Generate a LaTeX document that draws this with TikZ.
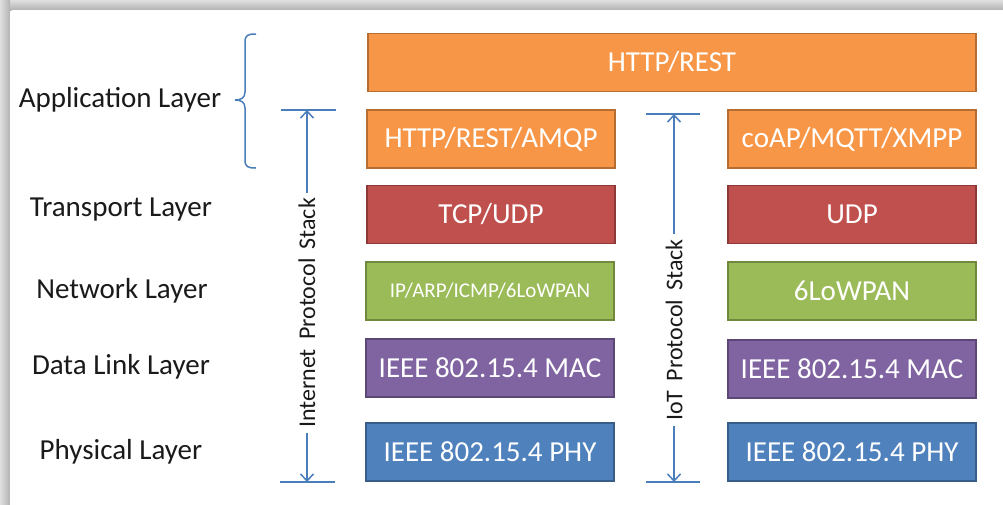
\documentclass[tikz,border=0pt]{standalone}
\usepackage{fontspec}
\setmainfont{Carlito}
\usetikzlibrary{arrows.meta}

\definecolor{orangefill}{HTML}{F79646}
\definecolor{orangeline}{HTML}{B66D31}
\definecolor{redfill}{HTML}{C0504D}
\definecolor{redline}{HTML}{8C3836}
\definecolor{greenfill}{HTML}{9BBB59}
\definecolor{greenline}{HTML}{71893F}
\definecolor{purplefill}{HTML}{8064A2}
\definecolor{purpleline}{HTML}{5C4776}
\definecolor{bluefill}{HTML}{4F81BD}
\definecolor{blueline}{HTML}{385D8A}
\definecolor{stackblue}{HTML}{4A7EBB}
\definecolor{labeltext}{HTML}{1A1A1A}

\tikzset{
  layerbox/.style={draw, line width=1.8pt, minimum height=58pt, inner sep=0pt,
    text=white, font=\fontsize{29}{34}\selectfont},
  narrowbox/.style={layerbox, minimum width=248pt},
  widebox/.style={layerbox, minimum width=608pt},
  appbox/.style={fill=orangefill, draw=orangeline},
  transbox/.style={fill=redfill, draw=redline},
  netbox/.style={fill=greenfill, draw=greenline},
  linkbox/.style={fill=purplefill, draw=purpleline},
  phybox/.style={fill=bluefill, draw=blueline},
  layername/.style={text=labeltext, font=\fontsize{29}{34}\selectfont, inner sep=0pt},
  stacklabel/.style={rotate=90, text=labeltext, font=\fontsize{24}{28}\selectfont, inner sep=5pt},
  stackline/.style={draw=stackblue, line width=1.5pt},
  stackarrow/.style={stackline, -{Straight Barb[length=7pt,width=13pt,line width=1.5pt]}},
}

\begin{document}
\begin{tikzpicture}[x=1pt, y=-1pt]
\useasboundingbox (0,0) rectangle (1003,504);

% frame shadow along the top and left edges, white card on top
\fill[white] (0,0) rectangle (1003,504);
\shade[top color=gray!25, bottom color=gray!60] (0,0) rectangle (1003,10);
\shade[left color=gray!25, right color=gray!60] (0,0) rectangle (10,504);
\fill[white, rounded corners=3pt] (10,10) rectangle (1010,510);

% layer names
\node[layername] (appname)  at (120,100) {Application Layer};
\node[layername] (transname) at (121,210) {Transport Layer};
\node[layername] (netname)  at (122,291) {Network Layer};
\node[layername] (linkname) at (121,367) {Data Link Layer};
\node[layername] (phyname)  at (121,452) {Physical Layer};

% brace grouping the application rows
\draw[stackline] (256,34) .. controls (248,34) and (245,35) .. (245,42)
  -- (245,92) .. controls (245,98) and (241,100) .. (235,100)
  .. controls (241,100) and (245,102) .. (245,108)
  -- (245,160) .. controls (245,167) and (248,168) .. (256,168);

% shared application protocol
\node[widebox, appbox] (http) at (672,62.5) {HTTP/REST};

% internet protocol stack
\node[narrowbox, appbox]   (iapp)   at (491,139)   {HTTP/REST/AMQP};
\node[narrowbox, transbox] (itrans) at (491,214.5) {TCP/UDP};
\node[narrowbox, netbox]   (inet)   at (490,291)   {\fontsize{21}{25}\selectfont IP/ARP/ICMP/6LoWPAN};
\node[narrowbox, linkbox]  (ilink)  at (490,368)   {IEEE 802.15.4 MAC};
\node[narrowbox, phybox]   (iphy)   at (490,452)   {IEEE 802.15.4 PHY};

% IoT protocol stack
\node[narrowbox, appbox]   (oapp)   at (852,139)   {coAP/MQTT/XMPP};
\node[narrowbox, transbox] (otrans) at (852,214.5) {UDP};
\node[narrowbox, netbox]   (onet)   at (852,291)   {6LoWPAN};
\node[narrowbox, linkbox]  (olink)  at (852,369)   {IEEE 802.15.4 MAC};
\node[narrowbox, phybox]   (ophy)   at (852,452)   {IEEE 802.15.4 PHY};

% extent markers of the internet stack
\coordinate (itopL) at (281,110);
\coordinate (itopR) at (336,110);
\coordinate (itop)  at (307,110);
\coordinate (ibotL) at (280,482);
\coordinate (ibotR) at (335,482);
\coordinate (ibot)  at (307,482);
\draw[stackline] (itopL) -- (itopR);
\draw[stackline] (ibotL) -- (ibotR);
\node[stacklabel] (ilabel) at (307,313) {Internet\hspace{0.15em} Protocol\hspace{0.15em} Stack};
\draw[stackarrow] (ilabel.east) -- (itop);
\draw[stackarrow] (ilabel.west) -- (ibot);

% extent markers of the IoT stack
\coordinate (otopL) at (646,114);
\coordinate (otopR) at (700,114);
\coordinate (otop)  at (674,114);
\coordinate (obotL) at (646,482);
\coordinate (obotR) at (700,482);
\coordinate (obot)  at (674,482);
\draw[stackline] (otopL) -- (otopR);
\draw[stackline] (obotL) -- (obotR);
\node[stacklabel] (olabel) at (674,330) {IoT\hspace{0.15em} Protocol\hspace{0.15em} Stack};
\draw[stackarrow] (olabel.east) -- (otop);
\draw[stackarrow] (olabel.west) -- (obot);
\end{tikzpicture}
\end{document}
